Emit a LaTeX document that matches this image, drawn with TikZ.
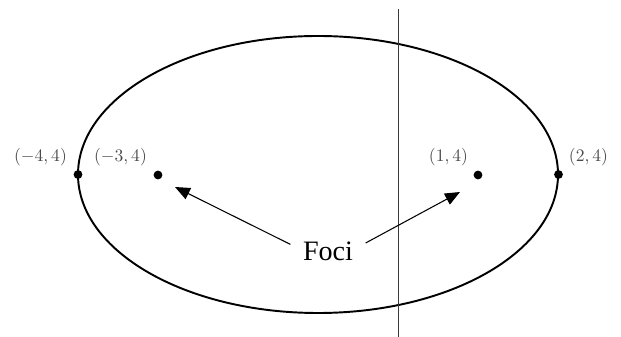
\documentclass[tikz,border=0pt]{standalone}
\usepackage{fontspec}
\usepackage{tikz}
\usetikzlibrary{arrows.meta, positioning}
\newfontfamily\focifont{Liberation Serif}
\definecolor{labelgray}{HTML}{4A4A4A}
\definecolor{axisgray}{HTML}{3A3A3A}
\tikzset{
    curve/.style={
        draw=black, line width=1.1pt
    },
    axisline/.style={
        draw=axisgray, line width=0.6pt
    },
    pointdot/.style={
        circle, fill=black, minimum size=5pt, inner sep=0pt
    },
    coordlabel/.style={
        text=labelgray, inner sep=0pt
    },
    pointer/.style={
        -{Triangle[length=8.5pt, width=7pt]}, line width=0.6pt, draw=black
    }
}

\begin{document}
\begin{tikzpicture}[x=0.02cm, y=-0.02cm]
    \useasboundingbox (0,0) rectangle (621,337);

    \draw[curve] (318,174.5) ellipse (240 and 138.5);
    \coordinate (ytop) at (398.5,9);
    \coordinate (ybot) at (398.5,337);
    \draw[axisline] (ytop) -- (ybot);

    \node[pointdot] (v1) at (78,174.5) {};
    \node[pointdot] (f1) at (158,175) {};
    \node[pointdot] (f2) at (478,175) {};
    \node[pointdot] (v2) at (558.5,174.5) {};

    \node[coordlabel] (l1) at (40.5,157) {$(-4,4)$};
    \node[coordlabel] (l2) at (120.5,157) {$(-3,4)$};
    \node[coordlabel] (l3) at (448.5,157) {$(1,4)$};
    \node[coordlabel] (l4) at (588.5,157) {$(2,4)$};

    \node[font=\focifont\fontsize{16}{19}\selectfont, inner xsep=7pt] (foci) at (328,251) {Foci};
    \coordinate (tip1) at (175,187);
    \coordinate (tip2) at (460,192);
    \draw[pointer] (foci.170) -- (tip1);
    \draw[pointer] (foci.12) -- (tip2);
\end{tikzpicture}
\end{document}
